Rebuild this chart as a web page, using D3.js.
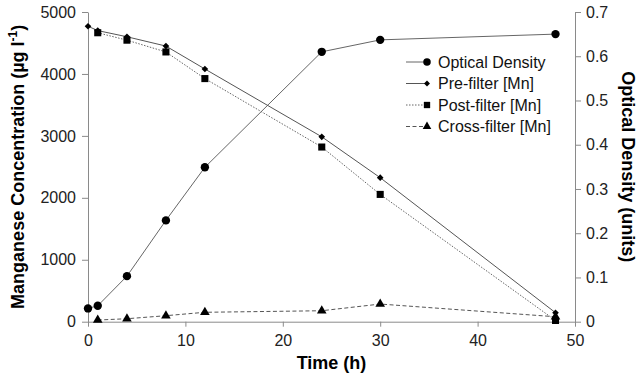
<!DOCTYPE html>
<html>
<head>
<meta charset="utf-8">
<script src="https://cdn.jsdelivr.net/npm/d3@7"></script>
<style>
  body { margin: 0; background: #fff; }
  svg { display: block; font-family: "Liberation Sans", Arial, sans-serif; }
</style>
</head>
<body>
<svg></svg>
<script>
// data
const hours = [0, 1, 4, 8, 12, 24, 30, 48];
const opticalDensity = [0.030, 0.036, 0.103, 0.229, 0.349, 0.610, 0.637, 0.650];
const preFilter = [4770, 4700, 4600, 4450, 4080, 2985, 2325, 145];
const postFilterHours = [1, 4, 8, 12, 24, 30, 48];
const postFilter = [4665, 4545, 4355, 3925, 2820, 2055, 20];
const crossFilterHours = [1, 4, 8, 12, 24, 30, 48];
const crossFilter = [27, 48, 97, 152, 177, 285, 80];

const xTicks = [0, 10, 20, 30, 40, 50];
const leftTicks = [0, 1000, 2000, 3000, 4000, 5000];
const rightTicks = [0, 0.1, 0.2, 0.3, 0.4, 0.5, 0.6, 0.7];

const width = 642, height = 381;
const svg = d3.select("svg")
  .attr("width", width)
  .attr("height", height);

const plotLeft = 88, plotRight = 575, plotTop = 12, plotBottom = 321.7;

const x = d3.scaleLinear().domain([0, 50]).range([plotLeft, plotRight]);
const yL = d3.scaleLinear().domain([0, 5000]).range([plotBottom, plotTop]);
const yR = d3.scaleLinear().domain([0, 0.7]).range([plotBottom, plotTop]);

const axisColor = "#8a8a8a";

function styleAxis(g) {
  g.selectAll("path, line").attr("stroke", axisColor).attr("stroke-width", 1);
  g.selectAll("text").attr("fill", "#222").attr("font-size", 16)
    .attr("font-family", "'Liberation Sans', Arial, sans-serif");
}

svg.append("g")
  .attr("transform", `translate(0,${plotBottom})`)
  .call(d3.axisBottom(x).tickValues(xTicks).tickSize(5).tickSizeOuter(0).tickPadding(8))
  .call(styleAxis);

svg.append("g")
  .attr("transform", `translate(${plotLeft},0)`)
  .call(d3.axisLeft(yL).tickValues(leftTicks).tickFormat(d3.format("d")).tickSize(6).tickSizeOuter(0).tickPadding(6))
  .call(styleAxis);

svg.append("g")
  .attr("transform", `translate(${plotRight},0)`)
  .call(d3.axisRight(yR).tickValues(rightTicks).tickFormat(d3.format("~g")).tickSize(6).tickSizeOuter(0).tickPadding(5))
  .call(styleAxis);

// axis titles
svg.append("text")
  .attr("transform", `translate(${x(25)},${plotBottom + 47})`)
  .attr("text-anchor", "middle")
  .attr("font-weight", "bold").attr("font-size", 18)
  .text("Time (h)");

const lt = svg.append("text")
  .attr("transform", `translate(24,${(plotTop + plotBottom) / 2}) rotate(-90)`)
  .attr("text-anchor", "middle")
  .attr("font-weight", "bold").attr("font-size", 18);
lt.append("tspan").text("Manganese Concentration (µg l");
lt.append("tspan").attr("font-size", 12).attr("dy", -7).text("-1");
lt.append("tspan").attr("dy", 7).text(")");

svg.append("text")
  .attr("transform", `translate(622,${(plotTop + plotBottom) / 2}) rotate(90)`)
  .attr("text-anchor", "middle")
  .attr("font-weight", "bold").attr("font-size", 18)
  .text("Optical Density (units)");

// diamond = square turned 45 degrees
const series = [
  { name: "Optical Density", xs: hours, ys: opticalDensity, scale: yR,
    dash: null, stroke: "#666", symbol: d3.symbolCircle, size: 55, rot: 0 },
  { name: "Pre-filter [Mn]", xs: hours, ys: preFilter, scale: yL,
    dash: null, stroke: "#555", symbol: d3.symbolSquare, size: 22, rot: 45 },
  { name: "Post-filter [Mn]", xs: postFilterHours, ys: postFilter, scale: yL,
    dash: "1.5,1.5", stroke: "#666", symbol: d3.symbolSquare, size: 50, rot: 0 },
  { name: "Cross-filter [Mn]", xs: crossFilterHours, ys: crossFilter, scale: yL,
    dash: "4,2.5", stroke: "#555", symbol: d3.symbolTriangle, size: 40, rot: 0 }
];

series.forEach(s => {
  const pts = s.xs.map((h, i) => [h, s.ys[i]]);
  const line = d3.line().x(d => x(d[0])).y(d => s.scale(d[1]));
  svg.append("path")
    .datum(pts)
    .attr("fill", "none")
    .attr("stroke", s.stroke)
    .attr("stroke-width", 1)
    .attr("stroke-dasharray", s.dash)
    .attr("d", line);

  svg.append("g").selectAll("path")
    .data(pts)
    .join("path")
    .attr("transform", d => `translate(${x(d[0])},${s.scale(d[1])}) rotate(${s.rot})`)
    .attr("d", d3.symbol().type(s.symbol).size(s.size))
    .attr("fill", "#000");
});

// legend
const legend = svg.append("g").attr("transform", "translate(406,62)");
series.forEach((s, i) => {
  const row = legend.append("g").attr("transform", `translate(0,${i * 21.5})`);
  row.append("line")
    .attr("x1", 0).attr("x2", 22)
    .attr("stroke", s.stroke).attr("stroke-width", 1)
    .attr("stroke-dasharray", s.dash);
  row.append("path")
    .attr("transform", `translate(21,0) rotate(${s.rot})`)
    .attr("d", d3.symbol().type(s.symbol).size(s.size * 0.8))
    .attr("fill", "#000");
  row.append("text")
    .attr("x", 32).attr("dy", "0.35em")
    .attr("font-size", 16)
    .attr("fill", "#111")
    .text(s.name);
});
</script>
</body>
</html>
